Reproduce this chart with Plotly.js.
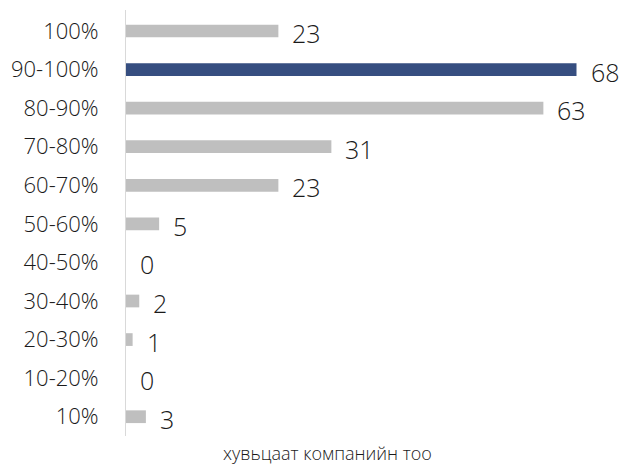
<!DOCTYPE html>
<html>
<head>
<meta charset="utf-8">
<script src="https://cdn.plot.ly/plotly-3.0.1.min.js"></script>
<style>html,body{margin:0;padding:0;background:#fff;}#chart{width:621px;height:465px;}</style>
</head>
<body>
<div id="chart"></div>
<script>
const categories = ["100%", "90-100%", "80-90%", "70-80%", "60-70%", "50-60%", "40-50%", "30-40%", "20-30%", "10-20%", "10%"];
const values = [23, 68, 63, 31, 23, 5, 0, 2, 1, 0, 3];
const highlight = "90-100%";
const axisTitle = "хувьцаат компанийн тоо";

const GRAY = "#BFBFBF", NAVY = "#364E80";
const FONT = "'Open Sans', 'Noto Sans', sans-serif";

const trace = {
  type: "bar",
  orientation: "h",
  x: values,
  y: categories,
  width: 0.33,
  marker: {color: categories.map(c => c === highlight ? NAVY : GRAY)},
  hoverinfo: "x+y"
};

const annotations = categories.map((c, i) => ({
  x: values[i], y: c, xref: "x", yref: "y",
  text: String(values[i]), showarrow: false,
  xanchor: "left", yanchor: "middle", xshift: 12, yshift: -2,
  font: {family: FONT, size: 25, color: "#1a1a1a", weight: 300}
}));
annotations.push({
  xref: "paper", yref: "paper", x: 0.4225, y: -0.039,
  xanchor: "center", yanchor: "middle", showarrow: false,
  text: axisTitle, font: {family: FONT, size: 18, color: "#1a1a1a", weight: 300}
});

const layout = {
  width: 621, height: 465,
  margin: {l: 126, r: 18, t: 10, b: 29},
  paper_bgcolor: "#fff", plot_bgcolor: "#fff",
  showlegend: false,
  font: {family: FONT, color: "#1a1a1a"},
  xaxis: {range: [0, 72], showgrid: false, zeroline: false, showline: false, showticklabels: false, ticks: ""},
  yaxis: {
    autorange: "reversed", showgrid: false, zeroline: false,
    showline: true, linecolor: "#D9D9D9", linewidth: 1,
    ticks: "", ticklabelstandoff: 22,
    tickfont: {family: FONT, size: 22, color: "#1a1a1a", weight: 300}
  },
  annotations: annotations
};

Plotly.newPlot("chart", [trace], layout, {displayModeBar: false, staticPlot: true});
</script>
</body>
</html>
